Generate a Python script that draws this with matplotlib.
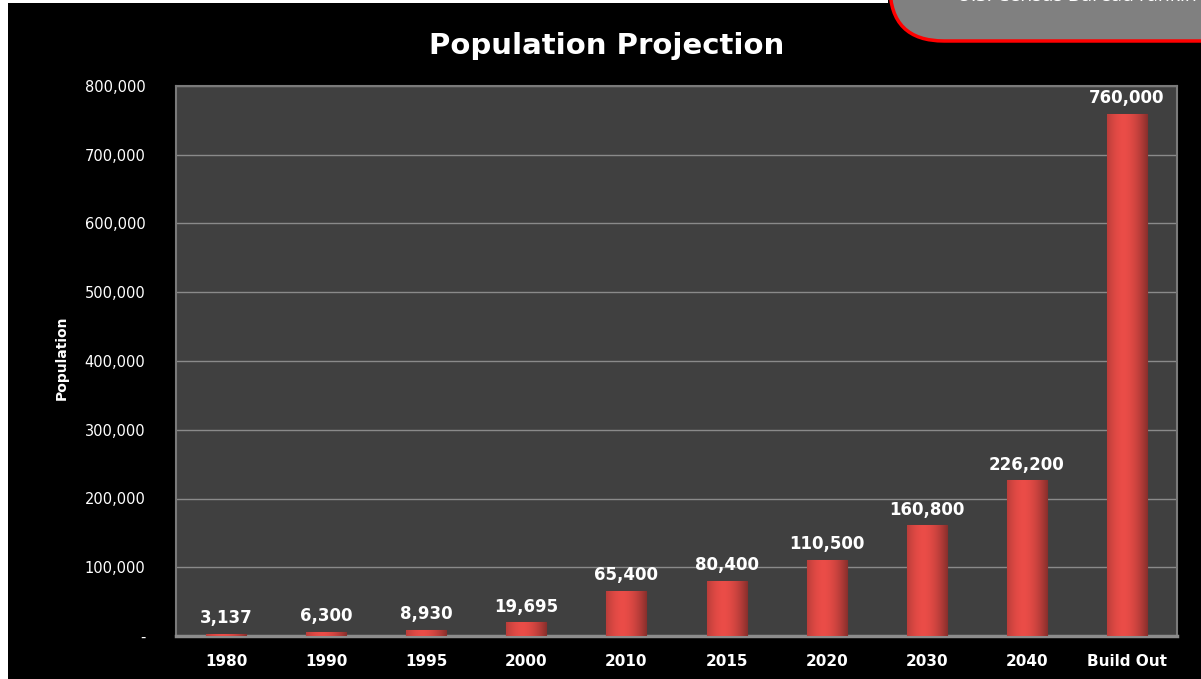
import numpy as np
import matplotlib.pyplot as plt
from matplotlib.patches import FancyBboxPatch, Rectangle
from matplotlib.ticker import FuncFormatter

categories = ["1980", "1990", "1995", "2000", "2010", "2015", "2020", "2030", "2040", "Build Out"]
population = [3137, 6300, 8930, 19695, 65400, 80400, 110500, 160800, 226200, 760000]
yticks = [0, 100000, 200000, 300000, 400000, 500000, 600000, 700000, 800000]

fig = plt.figure(figsize=(12.01, 6.79), dpi=100, facecolor="black")

# white strips at left and top edge of the original screenshot
fig.patches.append(Rectangle((0, 0), 8 / 1201, 1, transform=fig.transFigure,
                             facecolor="white", edgecolor="none", zorder=0))
fig.patches.append(Rectangle((0, 1 - 3 / 679), 888 / 1201, 3 / 679, transform=fig.transFigure,
                             facecolor="white", edgecolor="none", zorder=0))

ax = fig.add_axes([176 / 1201, 1 - 636 / 679, (1177 - 176) / 1201, (636 - 86) / 679])
ax.set_facecolor("#404040")

x = np.arange(len(categories))
bars = ax.bar(x, population, width=0.4, color="#d8403c", edgecolor="#9e2a28",
              linewidth=0.8, zorder=3)

# horizontal shading on each bar
grad = np.linspace(0, 1, 64)
shade = 1 - 0.45 * (np.abs(grad - 0.4) / 0.6) ** 1.8
img = np.zeros((1, 64, 3))
img[0, :, 0] = 0.86 * shade + 0.06
img[0, :, 1] = 0.26 * shade + 0.04
img[0, :, 2] = 0.24 * shade + 0.04
for b in bars:
    x0, w, h = b.get_x(), b.get_width(), b.get_height()
    im = ax.imshow(img, extent=(x0, x0 + w, 0, h), aspect="auto", zorder=3.5,
                   interpolation="bilinear")
    im.set_clip_path(b)

for xi, v in zip(x, population):
    ax.annotate(f"{v:,}", (xi, v), xytext=(0, 5), textcoords="offset points",
                ha="center", va="bottom", color="white", fontsize=12,
                fontweight="bold", zorder=5)

ax.set_xlim(-0.5, len(categories) - 0.5)
ax.set_ylim(0, 800000)
ax.set_yticks(yticks)
ax.yaxis.set_major_formatter(FuncFormatter(lambda v, p: "-" if v == 0 else f"{int(v):,}"))
ax.set_xticks(x)
ax.set_xticklabels(categories, fontweight="bold")
ax.tick_params(axis="x", colors="white", labelsize=11, length=0, pad=13)
ax.tick_params(axis="y", colors="white", labelsize=10.5, length=0, pad=22)
ax.grid(axis="y", color="#8a8a8a", linewidth=1, zorder=1)
ax.set_axisbelow(True)
for s in ax.spines.values():
    s.set_color("#7a7a7a")
    s.set_linewidth(1.5)
ax.spines["bottom"].set_color("#8c8c8c")
ax.spines["bottom"].set_linewidth(2.5)

fig.text(62 / 1201, 1 - 358 / 679, "Population", rotation=90, ha="center", va="center",
         color="white", fontsize=10, fontweight="bold")
fig.text(607 / 1201, 1 - 46 / 679, "Population Projection", ha="center", va="center",
         color="white", fontsize=21, fontweight="bold", family="DejaVu Sans")

# gray callout box in the top-right corner
box = FancyBboxPatch((890 / 1201, 1 - 41 / 679), 0.5, 0.2, transform=fig.transFigure,
                     boxstyle="round,pad=0,rounding_size=0.045",
                     mutation_aspect=1201 / 679,
                     facecolor="#808080", edgecolor="#ff0000", linewidth=2.5, zorder=2)
fig.patches.append(box)
fig.text(957 / 1201, 1 - 5 / 679, "U.S. Census Bureau rankin", ha="left", va="bottom",
         color="white", fontsize=14, family="Open Sans", zorder=3)

fig.savefig("out.png", dpi=100, facecolor="black")
